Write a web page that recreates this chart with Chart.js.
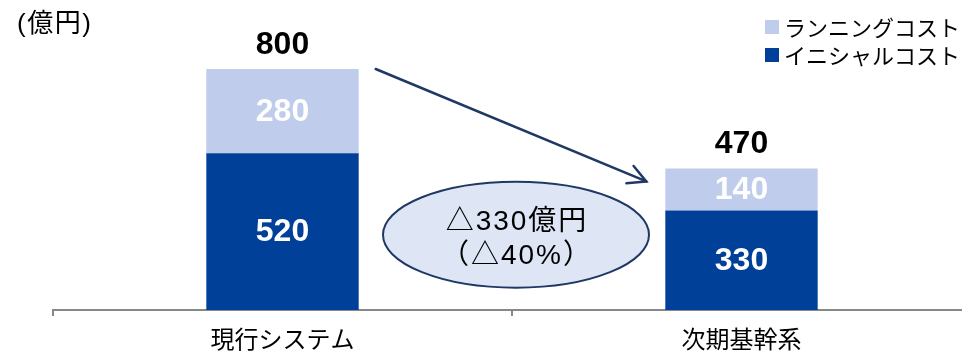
<!DOCTYPE html>
<html>
<head>
<meta charset="utf-8">
<script src="https://cdn.jsdelivr.net/npm/chart.js@4/dist/chart.umd.min.js"></script>
<style>
html,body{margin:0;padding:0;background:#fff;overflow:hidden;}
#wrap{width:962px;height:355px;overflow:hidden;position:relative;}
#c{position:absolute;left:0;top:0;}
</style>
</head>
<body>
<div id="wrap"><canvas id="c" width="980" height="355"></canvas></div>
<script>
const categories = ['現行システム', '次期基幹系'];
const initialCost = [520, 330];
const runningCost = [280, 140];
const seriesNames = ['イニシャルコスト', 'ランニングコスト'];
const unitLabel = '(億円)';
const diffLine1 = '△330億円';
const diffLine2 = '（△40%）';

const DARK = '#004098';
const LIGHT = '#BFCCEB';
const NAVY = '#1F3864';
const CJK = '"Noto Sans CJK JP", "Noto Sans", sans-serif';
const MIX = '"Liberation Sans", "Noto Sans CJK JP", sans-serif';
const NUM = '"Liberation Sans", Arial, sans-serif';

const overlay = {
  id: 'overlay',
  afterDatasetsDraw(chart) {
    const ctx = chart.ctx;
    const y = chart.scales.y;
    const m0 = chart.getDatasetMeta(0);
    const m1 = chart.getDatasetMeta(1);
    ctx.save();
    // segment labels
    ctx.textAlign = 'center';
    ctx.textBaseline = 'middle';
    ctx.font = 'bold 32px ' + NUM;
    ctx.fillStyle = '#fff';
    [m0, m1].forEach((meta, di) => {
      meta.data.forEach((el, i) => {
        const v = chart.data.datasets[di].data[i];
        ctx.fillText(String(v), el.x, (el.y + el.base) / 2 + 1);
      });
    });
    // totals
    ctx.fillStyle = '#000';
    const totals = categories.map((c, i) => initialCost[i] + runningCost[i]);
    totals.forEach((t, i) => {
      const el = m1.data[i];
      ctx.fillText(String(t), el.x, y.getPixelForValue(t) - 24);
    });
    // unit label
    ctx.textAlign = 'left';
    ctx.font = '26px ' + MIX;
    try { ctx.letterSpacing = '1.5px'; } catch (e) {}
    ctx.fillText(unitLabel, 17, 25);
    try { ctx.letterSpacing = '0px'; } catch (e) {}
    // legend
    const legendItems = [
      {label: seriesNames[1], color: LIGHT},
      {label: seriesNames[0], color: DARK}
    ];
    legendItems.forEach((it, k) => {
      const cy = 27 + k * 28;
      ctx.fillStyle = it.color;
      ctx.fillRect(765, cy - 7, 14, 14);
      ctx.fillStyle = '#000';
      ctx.font = '22px ' + CJK;
      ctx.fillText(it.label, 784, cy + 1);
    });
    // arrow
    const b1 = m1.data[0], b2 = m1.data[1];
    const sx = b1.x + b1.width / 2 + 17, sy = y.getPixelForValue(totals[0]);
    const ex = b2.x - b2.width / 2 - 19, ey = y.getPixelForValue(totals[1]) + 13;
    ctx.strokeStyle = NAVY;
    ctx.lineWidth = 2.5;
    ctx.lineCap = 'round';
    ctx.beginPath();
    ctx.moveTo(sx, sy);
    ctx.lineTo(ex, ey);
    ctx.stroke();
    const ang = Math.atan2(ey - sy, ex - sx);
    const L = 20, spread = 28 * Math.PI / 180;
    ctx.beginPath();
    ctx.moveTo(ex - L * Math.cos(ang - spread), ey - L * Math.sin(ang - spread));
    ctx.lineTo(ex, ey);
    ctx.lineTo(ex - L * Math.cos(ang + spread), ey - L * Math.sin(ang + spread));
    ctx.stroke();
    // ellipse
    const cx = (b1.x + b2.x) / 2 + 4;
    const cyE = y.getPixelForValue(250);
    ctx.beginPath();
    ctx.ellipse(cx, cyE, 133, 53, 0, 0, Math.PI * 2);
    ctx.fillStyle = '#DEE6F5';
    ctx.fill();
    ctx.lineWidth = 2;
    ctx.strokeStyle = NAVY;
    ctx.stroke();
    ctx.fillStyle = '#000';
    ctx.textAlign = 'center';
    ctx.font = '28px ' + MIX;
    try { ctx.letterSpacing = '2px'; } catch (e) {}
    ctx.fillText(diffLine1, cx + 1, cyE - 12);
    ctx.fillText(diffLine2, cx + 1, cyE + 22);
    try { ctx.letterSpacing = '0px'; } catch (e) {}
    ctx.restore();
  }
};

new Chart(document.getElementById('c'), {
  type: 'bar',
  data: {
    labels: categories,
    datasets: [
      {label: seriesNames[0], data: initialCost, backgroundColor: DARK, borderWidth: 0},
      {label: seriesNames[1], data: runningCost, backgroundColor: LIGHT, borderWidth: 0}
    ]
  },
  options: {
    responsive: false,
    animation: false,
    events: [],
    layout: {padding: {left: 53, right: 9, top: 0, bottom: 0}},
    plugins: {legend: {display: false}, tooltip: {enabled: false}},
    datasets: {bar: {categoryPercentage: 0.332, barPercentage: 1}},
    scales: {
      x: {
        stacked: true,
        offset: true,
        border: {display: true, color: '#888', width: 2},
        grid: {display: true, offset: true, drawOnChartArea: false, drawTicks: true, tickLength: 6, color: '#888', lineWidth: 2},
        ticks: {color: '#000', font: {family: CJK, size: 24}, padding: 8},
        afterFit(s) { s.height = 45; }
      },
      y: {
        stacked: true,
        display: false,
        min: 0,
        max: 1029
      }
    }
  },
  plugins: [overlay]
});
</script>
</body>
</html>
